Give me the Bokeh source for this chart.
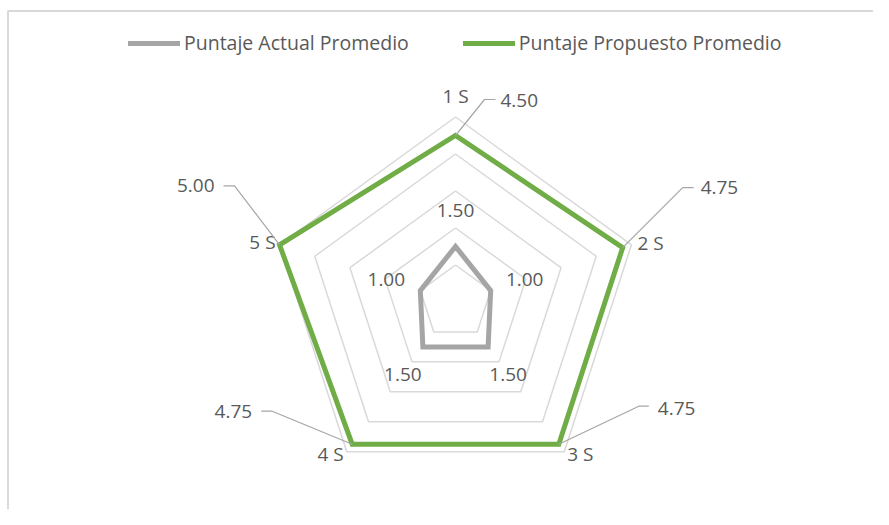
import numpy as np
from bokeh.plotting import figure
from bokeh.models import Range1d, Legend, LegendItem
from bokeh.core.properties import value
from bokeh.embed import file_html
from bokeh.resources import INLINE

# ---- data ----
categories = ["1 S", "2 S", "3 S", "4 S", "5 S"]
actual = [1.50, 1.00, 1.50, 1.50, 1.00]
proposed = [4.50, 4.75, 4.75, 4.75, 5.00]
rings = [1, 2, 3, 4, 5]
series_names = ["Puntaje Actual Promedio", "Puntaje Propuesto Promedio"]

# ---- style ----
W, H = 873, 509
PX = 37.0                 # pixels per unit of radius
CX, CY = 455.0, 301.5     # centre of the radar on the canvas (px from top-left)
FONT = value("Open Sans")
TXT = "#595959"
GRID = "#d9d9d9"
GRAY = "#a5a5a5"
GREEN = "#70ad47"
LEADER = "#a6a6a6"

x0, x1 = -CX / PX, (W - CX) / PX
y0, y1 = -(H - CY) / PX, CY / PX

p = figure(width=W, height=H, output_backend="svg", toolbar_location=None,
           x_range=Range1d(x0, x1), y_range=Range1d(y0, y1),
           min_border=0, outline_line_color=None)
p.axis.visible = False
p.xgrid.visible = False
p.ygrid.visible = False
p.background_fill_color = "white"

n = len(categories)
ang = np.arange(n) * 2 * np.pi / n


def pt(r, i):
    return r * np.sin(ang[i]), r * np.cos(ang[i])


# chart border (left and top)
p.line([x0 + 7.5 / PX, x0 + 7.5 / PX, x1], [y0, y1 - 10.5 / PX, y1 - 10.5 / PX],
       line_color=GRID, line_width=2)

# grid rings
gx, gy = [], []
for r in rings:
    xs = [pt(r, i)[0] for i in range(n)] + [pt(r, 0)[0]]
    ys = [pt(r, i)[1] for i in range(n)] + [pt(r, 0)[1]]
    gx.append(xs)
    gy.append(ys)
p.multi_line(gx, gy, line_color=GRID, line_width=1.5)


def closed(vals):
    idx = list(range(n)) + [0, 1]
    return [pt(vals[i], i)[0] for i in idx], [pt(vals[i], i)[1] for i in idx]


ax, ay = closed(actual)
r_gray = p.line(ax, ay, line_color=GRAY, line_width=5, line_join="miter", line_cap="round")
bx, by = closed(proposed)
r_green = p.line(bx, by, line_color=GREEN, line_width=5, line_join="miter", line_cap="round")

# category labels (offsets in px from the outer-ring vertex)
cat_off = [(0, -21, "center"), (6, -2, "left"), (3, 2, "left"), (-3, 2, "right"), (-4, -3, "right")]
rmax = max(rings)
for i, c in enumerate(categories):
    vx, vy = pt(rmax, i)
    dx, dy, al = cat_off[i]
    p.text([vx + dx / PX], [vy - dy / PX], text=[c], text_font=FONT, text_font_size="19px",
           text_color=TXT, text_align=al, text_baseline="middle")

# actual data labels (offsets in px from the point)
act_off = [(0, -36), (34, -11), (20, 28), (-20, 28), (-34, -11)]
for i, v in enumerate(actual):
    vx, vy = pt(v, i)
    dx, dy = act_off[i]
    p.text([vx + dx / PX], [vy - dy / PX], text=["%.2f" % v], text_font=FONT,
           text_font_size="19px", text_color=TXT, text_align="center", text_baseline="middle")

# proposed data labels with leader lines: (elbow dx, dy), (end dx), (text dx, dy), align
prop_off = [((29, -36), 40, (45, -35), "left"),
            ((60, -60), 71, (78, -60), "left"),
            ((80, -38), 90, (99, -36), "left"),
            ((-80, -33), -91, (-100, -33), "right"),
            ((-45, -59), -56, (-65, -59), "right")]
lx, ly = [], []
for i, v in enumerate(proposed):
    vx, vy = pt(v, i)
    (ex, ey), endx, (tx, ty), al = prop_off[i]
    lx.append([vx, vx + ex / PX, vx + endx / PX])
    ly.append([vy, vy - ey / PX, vy - ey / PX])
    p.text([vx + tx / PX], [vy - ty / PX], text=["%.2f" % v], text_font=FONT,
           text_font_size="19px", text_color=TXT, text_align=al, text_baseline="middle")
p.multi_line(lx, ly, line_color=LEADER, line_width=1.2)

legend = Legend(items=[LegendItem(label=series_names[0], renderers=[r_gray]),
                       LegendItem(label=series_names[1], renderers=[r_green])],
                orientation="horizontal", location=(128, H - 56),
                padding=0, margin=0, spacing=54, glyph_width=52, glyph_height=20,
                label_height=20, label_standoff=4, border_line_color=None,
                background_fill_alpha=0, label_text_font="Open Sans",
                label_text_font_size="19.5px", label_text_color=TXT,
                label_text_baseline="middle")
p.add_layout(legend)

open("out.html", "w").write(file_html(p, INLINE))
